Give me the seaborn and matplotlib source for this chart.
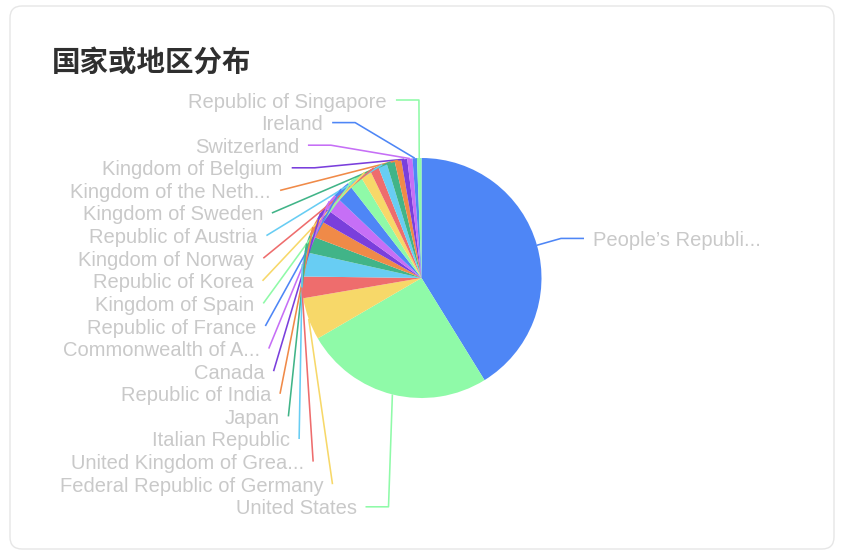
import numpy as np
import matplotlib
matplotlib.use("Agg")
import matplotlib.pyplot as plt
import seaborn as sns
from matplotlib.patches import FancyBboxPatch

# ---------------- data ----------------
title = "国家或地区分布"
labels = [
    "People\u2019s Republi...", "United States", "Federal Republic of Germany",
    "United Kingdom of Grea...", "Italian Republic", "Japan", "Republic of India",
    "Canada", "Commonwealth of A...", "Republic of France", "Kingdom of Spain",
    "Republic of Korea", "Kingdom of Norway", "Republic of Austria",
    "Kingdom of Sweden", "Kingdom of the Neth...", "Kingdom of Belgium",
    "Switzerland", "Ireland", "Republic of Singapore",
]
values = [412, 254, 57, 29, 33, 23, 24, 18, 21, 24, 19, 15, 12, 12, 11, 9, 8, 7, 6, 6]
palette_hex = ["#4e86f6", "#8ffaa8", "#f7d869", "#ee6d6d", "#68cdf3",
               "#41b488", "#f08a48", "#7a3fdc", "#c66ff6"]

# ---------------- style ----------------
sns.set_theme(style="white")
plt.rcParams["font.family"] = ["Liberation Sans", "Noto Sans CJK SC", "DejaVu Sans"]

W, H = 850, 560
fig = plt.figure(figsize=(W / 100, H / 100), dpi=100)
fig.patch.set_facecolor("white")
ax = fig.add_axes([0, 0, 1, 1])

# card
card = FancyBboxPatch((10, 6), 824, 543, boxstyle="round,pad=0,rounding_size=12",
                      fc="white", ec="#e6e6e6", lw=1.0, zorder=0)
ax.add_patch(card)

cx, cy, R = 421.5, 278, 120
colors = sns.color_palette(palette_hex, n_colors=len(palette_hex))
slice_colors = [colors[i % len(colors)] for i in range(len(values))]

ax.pie(values, colors=slice_colors, startangle=-90, counterclock=True,
       center=(cx, cy), radius=R, frame=True,
       wedgeprops=dict(linewidth=0, antialiased=True))
ax.set_xlim(0, W)
ax.set_ylim(H, 0)
ax.set_aspect("equal")
ax.set_axis_off()

ax.text(52, 62.5, title, fontsize=20.5, fontweight="bold", color="#2f2f2f",
        family=["Noto Sans CJK SC", "DejaVu Sans"], ha="left", va="center")

# ---------------- label layout (echarts-like) ----------------
vals = np.array(values, dtype=float)
mid = (np.cumsum(vals) - vals / 2) / vals.sum() * 2 * np.pi  # clockwise from top
len2, gap = 23, 9
rA_left, rA_right = 136, 145
label_top, step = 100, 22.6
fs_label = 14.5
text_dy = 2.0
label_color = "#c9c9c9"
lw = 1.15


def limit_lines(p0, p1, p2, normal):
    p0, p1, p2 = map(np.asarray, (p0, p1, p2))
    d1 = p1 - p0
    if np.linalg.norm(d1) > 1e-6:
        cosang = np.dot(normal, d1) / np.linalg.norm(d1)
        if cosang < 0:  # surface angle > 90 deg
            return p0, p2, p2
    a = p0 - p1
    b = p2 - p1
    if np.linalg.norm(a) > 1e-6 and np.linalg.norm(b) > 1e-6:
        c = np.dot(a, b) / (np.linalg.norm(a) * np.linalg.norm(b))
        if c > 0:  # turn angle < 90 deg
            t = (p0[0] - p1[0]) / (p2[0] - p1[0]) if p2[0] != p1[0] else 1
            if t > 1:
                p1 = p2
            elif t >= 0:
                p1 = np.array([p0[0], p1[1]])
    return p0, p1, p2


left = [i for i in range(len(vals)) if np.sin(mid[i]) < 0]
right = [i for i in range(len(vals)) if np.sin(mid[i]) >= 0]

left_sorted = sorted(left, key=lambda i: cy - rA_left * np.cos(mid[i]))
ys = {i: label_top + k * step for k, i in enumerate(left_sorted)}

# ellipse semi-axis per half
rB = {}
for half in ("top", "bottom"):
    members = [i for i in left_sorted if (ys[i] < cy) == (half == "top")]
    if not members:
        continue
    far = max(members, key=lambda i: abs(ys[i] - cy))
    dx0 = rA_left * abs(np.sin(mid[far]))
    rB[half] = abs(ys[far] - cy) / np.sqrt(1 - (dx0 / rA_left) ** 2)

for i in left_sorted:
    y = ys[i]
    half = "top" if y < cy else "bottom"
    dy = y - cy
    dx = rA_left * np.sqrt(max(0.0, 1 - dy * dy / rB[half] ** 2))
    th = mid[i]
    normal = np.array([np.sin(th), -np.cos(th)])
    p0 = np.array([cx + R * np.sin(th), cy - R * np.cos(th)])
    p1 = np.array([cx - dx, y])
    p2 = np.array([cx - dx - len2, y])
    p0, p1, p2 = limit_lines(p0, p1, p2, normal)
    pts = np.array([p0, p1, p2])
    ax.plot(pts[:, 0], pts[:, 1], color=slice_colors[i], lw=lw,
            solid_capstyle="butt", zorder=3)
    ax.text(p2[0] - gap, y + text_dy, labels[i], ha="right", va="center",
            fontsize=fs_label, color=label_color)

for i in right:
    th = mid[i]
    p0 = np.array([cx + R * np.sin(th), cy - R * np.cos(th)])
    p1 = np.array([cx + rA_right * np.sin(th), cy - rA_right * np.cos(th)])
    p2 = p1 + np.array([len2, 0])
    pts = np.array([p0, p1, p2])
    ax.plot(pts[:, 0], pts[:, 1], color=slice_colors[i], lw=lw,
            solid_capstyle="butt", zorder=3)
    ax.text(p2[0] + gap, p1[1] + text_dy, labels[i], ha="left", va="center",
            fontsize=fs_label, color=label_color)

fig.savefig("out.png", dpi=100, facecolor="white")
